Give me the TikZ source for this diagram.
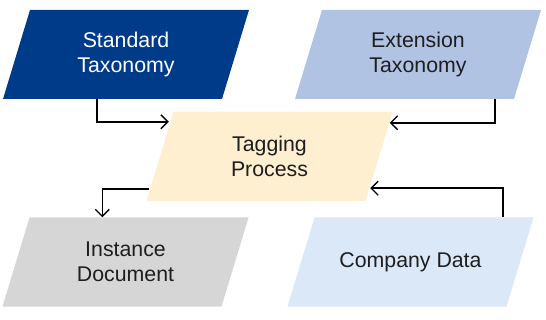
\documentclass[tikz,border=0pt]{standalone}
\usepackage{fontspec}
\setmainfont{Liberation Sans}
\usetikzlibrary{calc,arrows.meta}
\definecolor{stdblue}{HTML}{003B8A}
\definecolor{extblue}{HTML}{B0C3E3}
\definecolor{tagcol}{HTML}{FDEFCF}
\definecolor{instcol}{HTML}{D6D6D6}
\definecolor{compcol}{HTML}{DAE8F8}
\definecolor{txtcol}{HTML}{1E1E1E}
\tikzset{
  para/.style={rectangle, inner sep=0pt, minimum width=246pt, minimum height=89pt,
    align=center, font=\fontsize{21.3}{25.5}\selectfont, text=txtcol,
    path picture={\fill[#1]
      ($(path picture bounding box.north west)+(27pt,0)$) --
      (path picture bounding box.north east) --
      ($(path picture bounding box.south east)+(-27pt,0)$) --
      (path picture bounding box.south west) -- cycle;}},
  conn/.style={draw=black, line width=1.6pt,
    -{Straight Barb[length=7pt,width=14pt,line width=1.4pt]}}
}
\begin{document}
\begin{tikzpicture}[x=1pt,y=-1pt]
\useasboundingbox[fill=white] (0,0) rectangle (546,320);
\node[para=stdblue, text=white] (std) at (126,54.5) {Standard\\Taxonomy};
\node[para=extblue] (ext) at (418,54.5) {Extension\\Taxonomy};
\node[para=tagcol] (tag) at (269.5,156.5) {Tagging\\Process};
\node[para=instcol] (inst) at (125.5,262) {Instance\\Document};
\node[para=compcol] (comp) at (410.5,262) {\raisebox{4pt}{Company Data}};
% connectors
\draw[conn] ([xshift=-29pt]std.south) |- ($(tag.north west)+(22.5pt,-10pt)$);
\draw[conn] ([xshift=77pt]ext.south) |- ($(tag.north east)+(-3pt,-11pt)$);
\draw[conn] ($(tag.south west)+(3pt,12pt)$) -| ($(inst.north west)+(100pt,0pt)$);
\draw[conn] ([xshift=92.5pt]comp.north) |- ($(tag.south east)+(-22.5pt,13pt)$);
\end{tikzpicture}
\end{document}
